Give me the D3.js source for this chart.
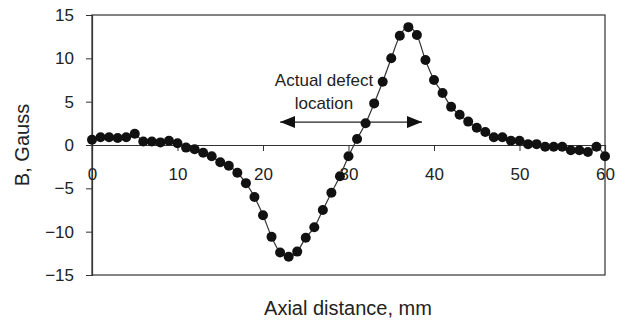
<!DOCTYPE html>
<html>
<head>
<meta charset="utf-8">
<script src="https://cdn.jsdelivr.net/npm/d3@7"></script>
<style>
  body { margin: 0; background: #fff; }
  svg { display: block; font-family: "Liberation Sans", Arial, sans-serif; }
</style>
</head>
<body>
<figure id="chart" style="margin:0"></figure>
<script>
// axial position (mm) and measured field (Gauss)
const distance = d3.range(0, 61);
const field = [
  0.6, 0.9, 0.9, 0.8, 0.9, 1.3, 0.4, 0.4, 0.3, 0.5,
  0.2, -0.3, -0.5, -0.9, -1.3, -2.0, -2.4, -3.2, -4.4, -6.0,
  -8.1, -10.6, -12.4, -12.9, -12.3, -10.7, -9.5, -7.5, -5.5, -3.6,
  -1.3, 0.7, 2.5, 4.8, 7.3, 10.0, 12.6, 13.6, 12.7, 9.8,
  7.5, 6.0, 4.4, 3.5, 2.7, 2.0, 1.5, 0.9, 0.9, 0.5,
  0.5, 0.1, 0.1, -0.2, -0.2, -0.2, -0.6, -0.6, -0.8, -0.2,
  -1.3
];
const xTicks = [0, 10, 20, 30, 40, 50, 60];
const yTicks = [-15, -10, -5, 0, 5, 10, 15];
const defectSpan = [22, 38.6];
const defectLevel = 2.65;
const defectLabel = ["Actual defect", "location"];

const width = 618, height = 323;
const plot = {left: 92, right: 605, top: 15, bottom: 275};

const svg = d3.select("#chart").append("svg")
  .attr("width", width)
  .attr("height", height);

const x = d3.scaleLinear().domain([0, 60]).range([plot.left, plot.right]);
const y = d3.scaleLinear().domain([-15, 15]).range([plot.bottom, plot.top]);

// frame
svg.append("rect")
  .attr("x", plot.left).attr("y", plot.top)
  .attr("width", plot.right - plot.left).attr("height", plot.bottom - plot.top)
  .attr("fill", "none").attr("stroke", "#333").attr("stroke-width", 1.2);

// y axis
const yAxis = svg.append("g")
  .attr("transform", "translate(" + plot.left + ",0)")
  .call(d3.axisLeft(y).tickValues(yTicks).tickSize(6).tickPadding(12));
yAxis.select(".domain").attr("stroke", "#333").attr("stroke-width", 1.2);
yAxis.selectAll("line").attr("stroke", "#333");
yAxis.selectAll("text").style("font-size", "17px").attr("fill", "#222");

// x axis on zero line
const xAxis = svg.append("g")
  .attr("transform", "translate(0," + y(0) + ")")
  .call(d3.axisBottom(x).tickValues(xTicks).tickSize(6).tickPadding(17));
xAxis.select(".domain").attr("stroke", "#333").attr("stroke-width", 1.2);
xAxis.selectAll("line").attr("stroke", "#333");
xAxis.selectAll("text").style("font-size", "17px").attr("fill", "#222");

// axis titles
svg.append("text")
  .attr("x", 348).attr("y", 315)
  .attr("text-anchor", "middle")
  .style("font-size", "20px").attr("fill", "#222")
  .text("Axial distance, mm");

svg.append("text")
  .attr("transform", "translate(29,145) rotate(-90)")
  .attr("text-anchor", "middle")
  .style("font-size", "20px").attr("fill", "#222")
  .text("B, Gauss");

// annotation arrow
const defs = svg.append("defs");
defs.append("marker")
  .attr("id", "head")
  .attr("viewBox", "0 0 15 12")
  .attr("refX", 15).attr("refY", 6)
  .attr("markerWidth", 15).attr("markerHeight", 12)
  .attr("markerUnits", "userSpaceOnUse")
  .attr("orient", "auto-start-reverse")
  .append("path").attr("d", "M0,0 L15,6 L0,12 Z").attr("fill", "#111");

svg.append("line")
  .attr("x1", x(defectSpan[0])).attr("x2", x(defectSpan[1]))
  .attr("y1", y(defectLevel)).attr("y2", y(defectLevel))
  .attr("stroke", "#222").attr("stroke-width", 1.2)
  .attr("marker-start", "url(#head)")
  .attr("marker-end", "url(#head)");

svg.append("g").selectAll("text")
  .data(defectLabel)
  .enter()
  .append("text")
  .attr("x", 324)
  .attr("y", (d, i) => 86 + i * 23)
  .attr("text-anchor", "middle")
  .style("font-size", "17px").attr("fill", "#222")
  .text(d => d);

// curve and points
const points = distance.map((d, i) => ({x: d, y: field[i]}));

svg.append("path")
  .datum(points)
  .attr("fill", "none")
  .attr("stroke", "#333")
  .attr("stroke-width", 1.2)
  .attr("d", d3.line().x(d => x(d.x)).y(d => y(d.y)).curve(d3.curveMonotoneX));

svg.append("g").selectAll("circle")
  .data(points)
  .enter()
  .append("circle")
  .attr("cx", d => x(d.x))
  .attr("cy", d => y(d.y))
  .attr("r", 5)
  .attr("fill", "#111");
</script>
</body>
</html>
